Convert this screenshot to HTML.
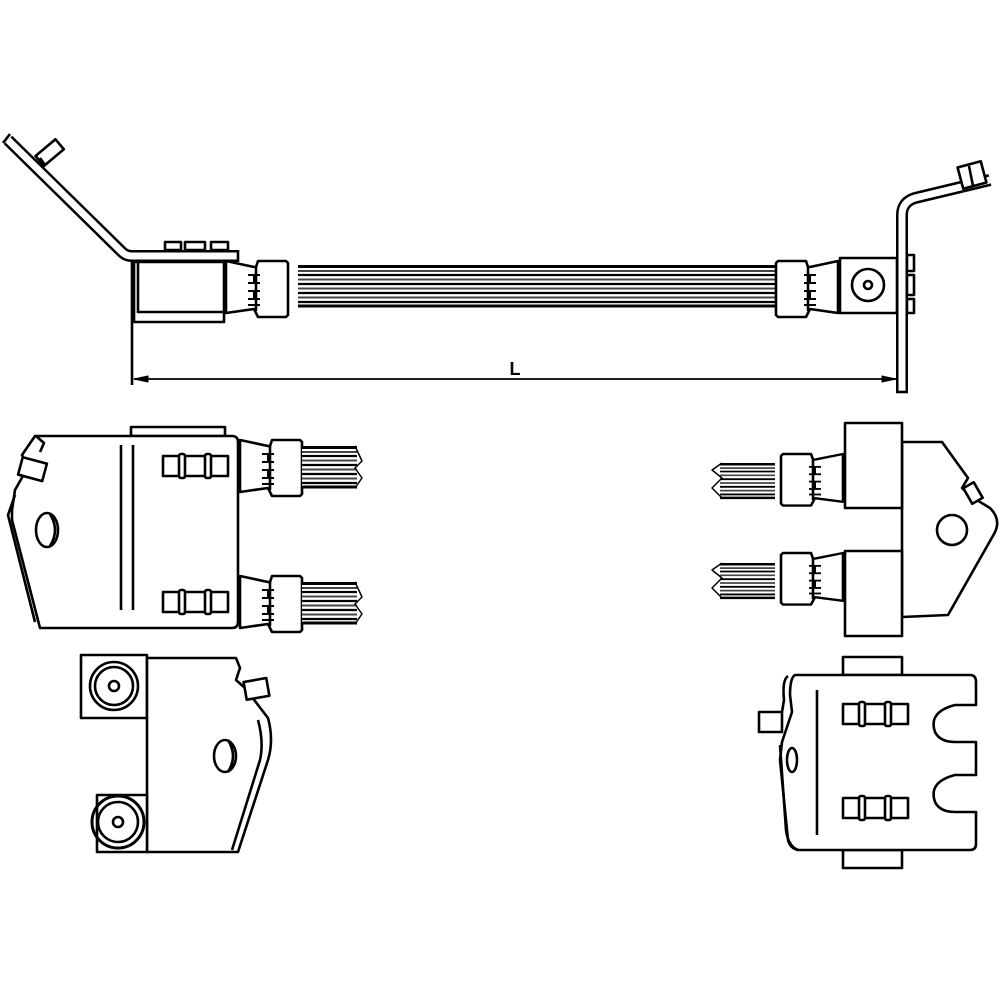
<!DOCTYPE html>
<html><head><style>html,body{margin:0;padding:0;background:#fff}svg{display:block}</style></head>
<body>
<svg width="1000" height="1000" viewBox="0 0 1000 1000" xmlns="http://www.w3.org/2000/svg" fill="none" stroke="#000" stroke-width="2.6" stroke-linejoin="round">
<defs>
<g id="wires">
<rect x="0" y="0" width="100" height="42" fill="#fff" stroke="none"/>
<line x1="0" y1="1.5" x2="100" y2="1.5" stroke-width="3"/>
<line x1="0" y1="6" x2="100" y2="6" stroke="#444" stroke-width="2"/>
<line x1="0" y1="10" x2="100" y2="10" stroke-width="2.2"/>
<line x1="0" y1="14.5" x2="100" y2="14.5" stroke="#444" stroke-width="2"/>
<line x1="0" y1="19" x2="100" y2="19" stroke-width="2.2"/>
<line x1="0" y1="23.5" x2="100" y2="23.5" stroke="#444" stroke-width="2"/>
<line x1="0" y1="28" x2="100" y2="28" stroke-width="2.2"/>
<line x1="0" y1="32.5" x2="100" y2="32.5" stroke="#444" stroke-width="2"/>
<line x1="0" y1="37" x2="100" y2="37" stroke-width="2.2"/>
<line x1="0" y1="41" x2="100" y2="41" stroke-width="3"/>
</g>
<g id="crimp">
<path d="M0,0 L28,6 L30,6 L32,0 L60,0 L62,2 L62,54 L60,56 L32,56 L28,48 L0,52 Z" fill="#fff"/>
<line x1="30" y1="6" x2="30" y2="50"/>
<g stroke-width="2">
<line x1="22" y1="14" x2="34" y2="14"/><line x1="22" y1="22" x2="34" y2="22"/><line x1="28" y1="14" x2="28" y2="22"/>
<line x1="22" y1="30" x2="34" y2="30"/><line x1="22" y1="38" x2="34" y2="38"/><line x1="28" y1="30" x2="28" y2="38"/>
<line x1="22" y1="44" x2="34" y2="44"/>
</g>
</g>
<g id="fuse">
<rect x="0" y="0" width="65" height="20" fill="#fff"/>
<rect x="16" y="-2" width="6" height="24" fill="#fff" rx="2"/>
<rect x="42" y="-2" width="6" height="24" fill="#fff" rx="2"/>
</g>
</defs>

<!-- ===== TOP VIEW ===== -->
<path d="M8,140 L122,252 Q126,256 132,256 L238,256" stroke="#000" stroke-width="12"/>
<path d="M8,140 L122,252 Q126,256 132,256 L238,256" stroke="#fff" stroke-width="7"/>
<line x1="10" y1="134" x2="3" y2="143" />
<rect x="37" y="146" width="26" height="13" transform="rotate(-40 50 153)" fill="#fff"/>
<line x1="40" y1="158" x2="45" y2="165"/>
<rect x="165" y="242" width="16" height="8" fill="#fff"/>
<rect x="185" y="242" width="20" height="8" fill="#fff"/>
<rect x="211" y="242" width="17" height="8" fill="#fff"/>
<line x1="238" y1="250" x2="238" y2="262"/>
<line x1="132" y1="262" x2="132" y2="385"/>
<rect x="134" y="262" width="90" height="60" fill="#fff"/>
<path d="M138,262 L138,312 L224,312" />
<use href="#crimp" x="226" y="261"/>
<g transform="translate(298,265)"><use href="#wires"/></g>
<g transform="translate(398,265)"><use href="#wires"/></g>
<g transform="translate(498,265)"><use href="#wires"/></g>
<g transform="translate(598,265)"><use href="#wires"/></g>
<g transform="translate(675,265)"><use href="#wires"/></g>
<g transform="translate(838,261) scale(-1,1)"><use href="#crimp"/></g>
<rect x="840" y="258" width="57" height="55" fill="#fff"/>
<circle cx="868" cy="285" r="16"/>
<circle cx="868" cy="285" r="4"/>
<path d="M902,392 L902,215 Q902,202 915,198 L990,180" stroke="#000" stroke-width="12"/>
<path d="M902,392 L902,215 Q902,202 915,198 L990,180" stroke="#fff" stroke-width="7"/>
<line x1="896" y1="392" x2="908" y2="392"/>
<rect x="960" y="164" width="24" height="22" transform="rotate(-15 972 175)" fill="#fff"/>
<line x1="969" y1="166" x2="973" y2="186"/>
<rect x="907" y="255" width="7" height="16" fill="#fff"/>
<rect x="907" y="275" width="7" height="20" fill="#fff"/>
<rect x="907" y="299" width="7" height="14" fill="#fff"/>
<line x1="134" y1="379" x2="896" y2="379" stroke-width="1.8"/>
<path d="M134,379 L148,376 L148,382 Z" fill="#000" stroke-width="1"/>
<path d="M896,379 L882,376 L882,382 Z" fill="#000" stroke-width="1"/>
<text x="515" y="375" font-family="Liberation Sans, sans-serif" font-size="18" font-weight="bold" fill="#000" stroke="none" text-anchor="middle">L</text>

<!-- ===== MIDDLE LEFT ===== -->
<rect x="131" y="427" width="94" height="9" fill="#fff"/>
<path d="M35,436 L232,436 Q238,436 238,442 L238,622 Q238,628 232,628 L40,628 L12,520 L12,510 L15,490 L28,467 L22,455 Z" fill="#fff"/>
<path d="M36,436 L44,443 L40,452" />
<rect x="20" y="460" width="25" height="18" transform="rotate(15 32 469)" fill="#fff"/>
<path d="M15,495 L8,515 L35,622"/>
<line x1="121" y1="445" x2="121" y2="610"/>
<line x1="133" y1="445" x2="133" y2="610"/>
<ellipse cx="47" cy="530" rx="11" ry="17"/>
<path d="M50,514 Q60,530 50,546" />
<use href="#fuse" x="163" y="456"/>
<use href="#fuse" x="163" y="592"/>
<use href="#crimp" x="240" y="440"/>
<use href="#crimp" x="240" y="576"/>
<g transform="translate(302,446) scale(0.55,1)"><use href="#wires"/></g>
<path d="M355,446 L362,461 L355,468 L362,478 L355,488" stroke-width="1.5"/>
<g transform="translate(302,582) scale(0.55,1)"><use href="#wires"/></g>
<path d="M355,582 L362,597 L355,604 L362,614 L355,624" stroke-width="1.5"/>

<!-- ===== BOTTOM LEFT ===== -->
<rect x="81" y="655" width="66" height="63" fill="#fff"/>
<circle cx="114" cy="686" r="24"/>
<circle cx="114" cy="686" r="19"/>
<circle cx="114" cy="686" r="5"/>
<path d="M147,658 L236,658 L240,668 L236,680 L245,688 L268,718 Q274,740 268,760 L238,852 L147,852 Z" fill="#fff"/>
<path d="M258,720 Q264,742 260,760 L232,850" />
<rect x="245" y="680" width="23" height="18" transform="rotate(-10 256 689)" fill="#fff"/>
<ellipse cx="225" cy="756" rx="11" ry="16"/>
<path d="M228,740 Q238,756 228,772" />
<rect x="97" y="795" width="50" height="57" fill="#fff"/>
<circle cx="118" cy="822" r="26" stroke-width="3"/>
<circle cx="118" cy="822" r="20"/>
<circle cx="118" cy="822" r="5"/>

<!-- ===== MIDDLE RIGHT ===== -->
<path d="M902,442 L942,442 L968,478 L962,488 L970,496 L990,508 Q1002,520 994,534 L948,615 L902,617 Z" fill="#fff"/>
<rect x="967" y="484" width="12" height="18" transform="rotate(-30 973 493)" fill="#fff"/>
<circle cx="952" cy="530" r="15"/>
<rect x="845" y="423" width="57" height="85" fill="#fff"/>
<rect x="845" y="551" width="57" height="85" fill="#fff"/>
<g transform="translate(843,454) scale(-1,0.92)"><use href="#crimp"/></g>
<g transform="translate(843,553) scale(-1,0.92)"><use href="#crimp"/></g>
<g transform="translate(720,463) scale(0.55,0.85)"><use href="#wires"/></g>
<path d="M722,463 L712,470 L722,478 L712,488 L722,498" stroke-width="1.5"/>
<g transform="translate(720,563) scale(0.55,0.85)"><use href="#wires"/></g>
<path d="M722,563 L712,570 L722,578 L712,588 L722,598" stroke-width="1.5"/>

<!-- ===== BOTTOM RIGHT ===== -->
<rect x="843" y="657" width="59" height="18" fill="#fff"/>
<rect x="843" y="850" width="59" height="18" fill="#fff"/>
<path d="M795,675 L970,675 Q976,675 976,682 L976,705 L955,705 Q928,712 935,732 Q940,742 955,742 L976,742 L976,775 L955,775 Q928,782 935,802 Q940,812 955,812 L976,812 L976,844 Q976,850 970,850 L798,850 Q790,848 788,840 L780,760 L782,742 L792,712 L790,695 Q790,678 795,675 Z" fill="#fff"/>
<path d="M788,676 Q782,680 784,700 L782,712" />
<path d="M780,745 L786,830 Q788,846 798,850" />
<rect x="759" y="712" width="23" height="20" fill="#fff"/>
<ellipse cx="792" cy="760" rx="5" ry="12"/>
<line x1="817" y1="690" x2="817" y2="835"/>
<use href="#fuse" x="843" y="704"/>
<use href="#fuse" x="843" y="798"/>
</svg>
</body></html>
